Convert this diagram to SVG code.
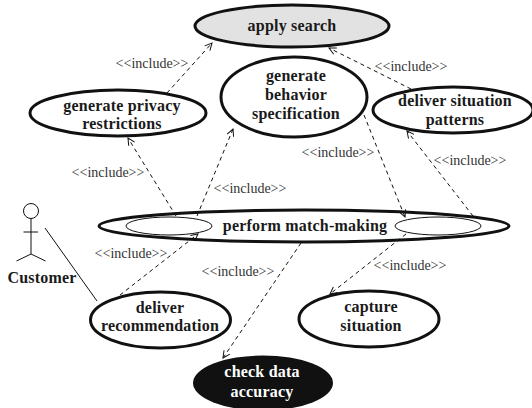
<svg xmlns="http://www.w3.org/2000/svg" width="532" height="408" viewBox="0 0 532 408">
<style>
text{font-family:"Liberation Serif","Times New Roman",serif;text-anchor:middle}
.n{font-size:16px;font-weight:bold;fill:#1a1a1a;letter-spacing:.2px}
.i{font-size:14px;fill:#333}
.e{fill:#fff;stroke:#111;stroke-width:3}
.d{fill:none;stroke:#111;stroke-width:1;stroke-dasharray:4 3.500}
.s{fill:none;stroke:#111;stroke-width:1}
</style>
<defs><marker id="a" markerWidth="10" markerHeight="10" refX="8" refY="4" orient="auto" markerUnits="userSpaceOnUse"><path d="M1 .5L8 4L1 7.500" fill="none" stroke="#111" stroke-width="1"/></marker></defs>
<g id="n-search"><ellipse class="e" cx="292" cy="26" rx="97" ry="21" style="fill:#e2e2e2"/><text class="n" x="292" y="31">apply search</text></g>
<g id="n-behavior"><ellipse class="e" cx="294" cy="97" rx="73" ry="40"/><text class="n" x="296" y="81">generate</text><text class="n" x="296" y="100">behavior</text><text class="n" x="296" y="119">specification</text></g>
<g id="n-privacy"><ellipse class="e" cx="118" cy="113" rx="88" ry="23"/><text class="n" x="122" y="111">generate privacy</text><text class="n" x="122" y="129">restrictions</text></g>
<g id="n-patterns"><ellipse class="e" cx="453" cy="110" rx="80" ry="23"/><text class="n" x="455" y="106">deliver situation</text><text class="n" x="455" y="125">patterns</text></g>
<g id="n-match"><ellipse class="e" cx="304" cy="226" rx="205" ry="16"/><ellipse cx="169" cy="226" rx="43" ry="9" fill="#fff" stroke="#111"/><ellipse cx="438" cy="226" rx="43" ry="9" fill="#fff" stroke="#111"/><text class="n" x="305" y="231">perform match-making</text></g>
<g id="n-recommend"><ellipse class="e" cx="160.500" cy="320" rx="70" ry="28"/><text class="n" x="160" y="313">deliver</text><text class="n" x="160" y="331">recommendation</text></g>
<g id="n-capture"><ellipse class="e" cx="369" cy="319" rx="70" ry="28"/><text class="n" x="371" y="312">capture</text><text class="n" x="371" y="331">situation</text></g>
<g id="n-accuracy"><ellipse cx="263" cy="383" rx="70" ry="27.500" fill="#111"/><text class="n" x="262" y="377" style="fill:#fff">check data</text><text class="n" x="262" y="397" style="fill:#fff">accuracy</text></g>
<g id="n-customer"><circle cx="31" cy="211" r="7.500" class="s"/><path class="s" d="M31 218.500V254M23.500 232H38M16.500 261L31 254L45.500 261"/><text class="n" x="42" y="283">Customer</text></g>
<g id="connectors">
<path class="s" d="M45 228L97 301"/>
<path class="d" marker-end="url(#a)" d="M167 93L212 43"/>
<path class="d" marker-end="url(#a)" d="M176 216L128 138"/>
<path class="d" marker-end="url(#a)" d="M197 216L233 129"/>
<path class="d" marker-end="url(#a)" d="M120 295L198 234"/>
<path class="d" marker-end="url(#a)" d="M411 89L329 48"/>
<path class="d" marker-end="url(#a)" d="M364 115L405 217"/>
<path class="d" marker-end="url(#a)" d="M473 216L407 131"/>
<path class="d" marker-end="url(#a)" d="M406 234L330 294"/>
<path class="d" marker-end="url(#a)" d="M301 243L223 358"/>
</g>
<g id="labels">
<text class="i" x="152" y="68">&lt;&lt;include&gt;&gt;</text>
<text class="i" x="108" y="177">&lt;&lt;include&gt;&gt;</text>
<text class="i" x="250" y="193">&lt;&lt;include&gt;&gt;</text>
<text class="i" x="131" y="258">&lt;&lt;include&gt;&gt;</text>
<text class="i" x="238" y="276">&lt;&lt;include&gt;&gt;</text>
<text class="i" x="411" y="71">&lt;&lt;include&gt;&gt;</text>
<text class="i" x="338" y="157">&lt;&lt;include&gt;&gt;</text>
<text class="i" x="470" y="165">&lt;&lt;include&gt;&gt;</text>
<text class="i" x="410" y="270">&lt;&lt;include&gt;&gt;</text>
</g>
</svg>
